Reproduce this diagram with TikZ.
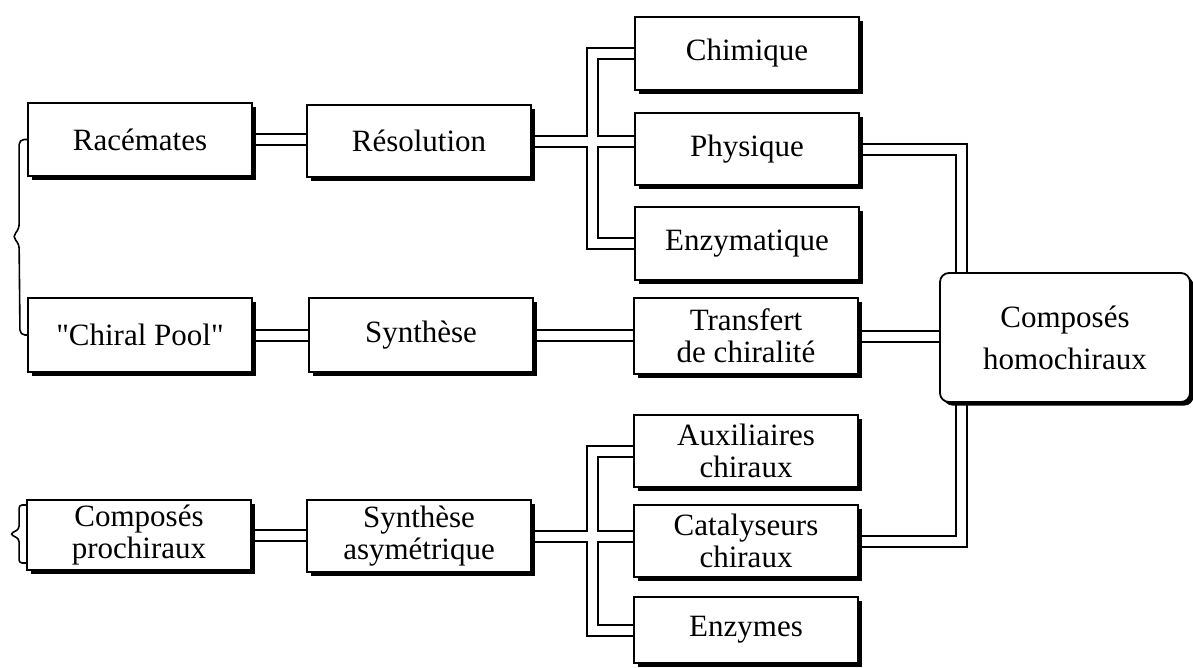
\documentclass[tikz,border=0pt]{standalone}
\usepackage{fontspec}
\setmainfont{Liberation Serif}
\usetikzlibrary{shadows,backgrounds,calc}
\tikzset{
  box/.style={draw=black, line width=1.8pt, fill=white, rectangle, inner sep=0pt,
    minimum width=224pt, minimum height=72pt, align=center,
    font=\fontsize{31}{32}\selectfont,
    drop shadow={shadow xshift=3.5pt, shadow yshift=-3.5pt, fill=black, opacity=1}},
  outerpipe/.style={draw=black, line width=13pt},
  innerpipe/.style={draw=white, line width=9pt},
  bracket/.style={draw=black, line width=1.6pt, rounded corners=5pt},
}
\newcommand\pipeset[1]{%
  \draw[#1] (rac.east) -- (rac.east -| res.west);
  \draw[#1] (res.east) -- (res.east -| phys.west);
  \draw[#1] (chim.west) -- (chim.west -| tA) -- (enzm.west -| tA) -- (enzm.west);
  \draw[#1] (pool.east) -- (pool.east -| syn.west);
  \draw[#1] (syn.east) -- (syn.east -| trans.west);
  \draw[#1] (trans.east) -- (trans.east -| homo.west);
  \draw[#1] (phys.east) -- (phys.east -| tR) -- (cat.east -| tR) -- (cat.east);
  \draw[#1] (pro.east) -- (pro.east -| sa.west);
  \draw[#1] (sa.east) -- (sa.east -| cat.west);
  \draw[#1] (aux.west) -- (aux.west -| tB) -- (enzy.west -| tB) -- (enzy.west);
}
\begin{document}
\begin{tikzpicture}[x=1pt,y=-1pt]
\useasboundingbox (0,0) rectangle (1193,667);
% column 1
\node[box, minimum height=73pt] (rac) at (140,139.5) {Racémates};
\node[box, minimum height=74pt] (pool) at (140,335) {\textquotedbl Chiral Pool\textquotedbl};
\node[box, minimum height=70pt] (pro) at (139,535) {Composés\\prochiraux};
% column 2
\node[box] (res) at (419,141) {Résolution};
\node[box, minimum height=74pt] (syn) at (421,335) {Synthèse};
\node[box] (sa) at (419,536) {Synthèse\\asymétrique};
% column 3
\node[box, minimum height=73pt] (chim) at (747,53.5) {Chimique};
\node[box] (phys) at (747,149) {Physique};
\node[box, minimum height=73pt] (enzm) at (747,243.5) {Enzymatique};
\node[box, minimum height=76pt] (trans) at (746,336) {Transfert\\de chiralité};
\node[box] (aux) at (746,451) {Auxiliaires\\chiraux};
\node[box] (cat) at (746,541) {Catalyseurs\\chiraux};
\node[box, minimum height=66pt] (enzy) at (746,630) {Enzymes};
% target
\node[box, rounded corners=9pt, minimum width=250pt, minimum height=129pt,
      font=\fontsize{31}{42}\selectfont] (homo) at (1065,337.5) {Composés\\homochiraux};
% trunk coordinates
\coordinate (tA) at (592,0);
\coordinate (tB) at (592,0);
\coordinate (tR) at (961,0);
\begin{scope}[on background layer]
  \pipeset{outerpipe}
  \pipeset{innerpipe}
\end{scope}
% brackets
\draw[bracket] (rac.west) -- ++(-8,0) -- ++(0,90) -- ++(-7,7) -- ++(7,7) -- (20,335) -- (pool.west);
\draw[bracket, rounded corners=3pt] ($(pro.west)+(0,-30)$) -- ++(-7,0) -- ++(0,24) -- ++(-9,5) -- ++(9,5) -- ++(0,24) -- ++(7,0);
\end{tikzpicture}
\end{document}
